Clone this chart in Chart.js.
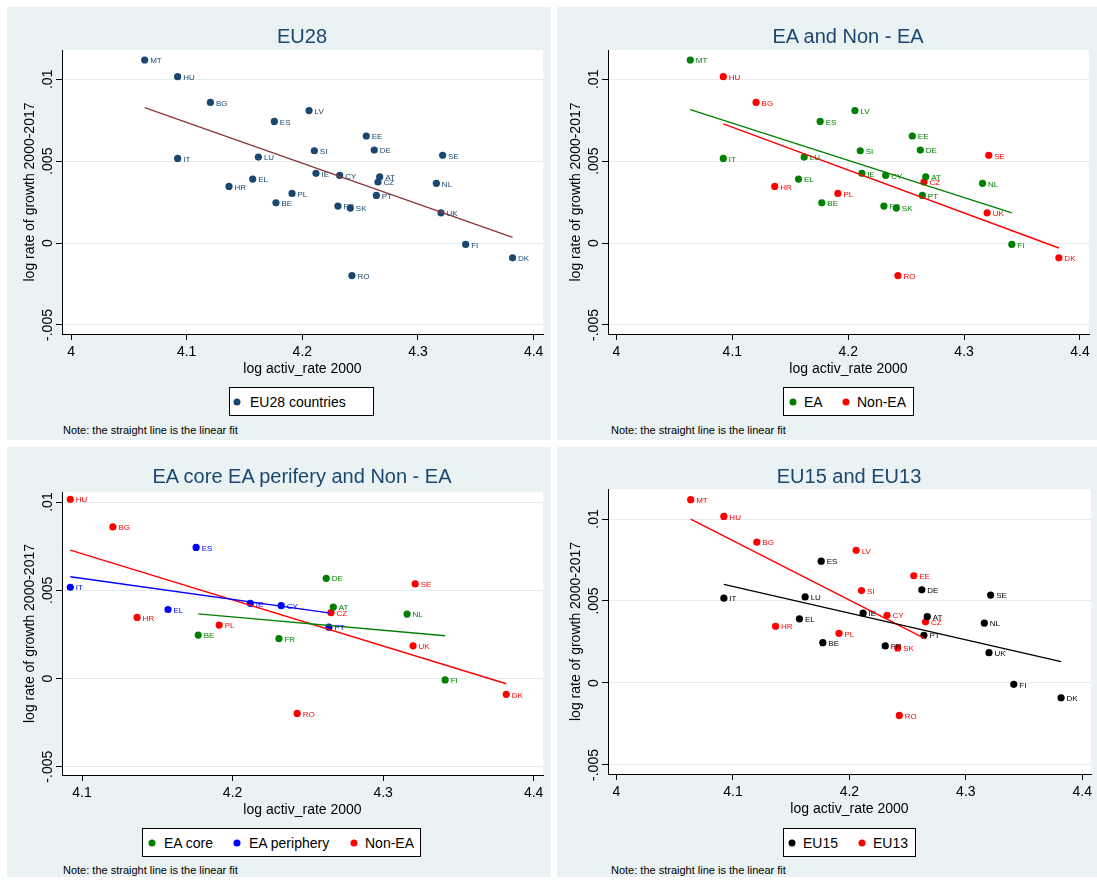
<!DOCTYPE html>
<html>
<head>
<meta charset="utf-8">
<script src="https://cdn.jsdelivr.net/npm/chart.js@4.4.1/dist/chart.umd.min.js"></script>
<style>
  body { margin: 0; width: 1097px; height: 886px; position: relative; overflow: hidden; background: #fff;
         font-family: "Liberation Sans", Arial, sans-serif; }
  .bg { position: absolute; background: #eaf2f3; }
  .ttl { position: absolute; font-size: 20px; line-height: 1; color: #1a476f; white-space: nowrap; transform: translate(-50%, -50%); }
  .lgd { position: absolute; background: #fff; border: 1px solid #000; box-sizing: border-box; }
  .dot { position: absolute; width: 7px; height: 7px; border-radius: 50%; transform: translate(-50%, -50%); }
  .ltx { position: absolute; font-size: 14px; line-height: 1; transform: translateY(-50%); white-space: nowrap; }
  .note { position: absolute; font-size: 11px; line-height: 1; transform: translateY(-50%); white-space: nowrap; }
  canvas { position: absolute; }
</style>
</head>
<body>
<div class="bg" style="left:7px;top:7px;width:544px;height:433px"></div>
<div class="bg" style="left:557px;top:7px;width:540px;height:433px"></div>
<div class="bg" style="left:7px;top:447px;width:544px;height:430px"></div>
<div class="bg" style="left:557px;top:447px;width:540px;height:430px"></div>

<canvas id="c1"></canvas>
<canvas id="c2"></canvas>
<canvas id="c3"></canvas>
<canvas id="c4"></canvas>

<div class="ttl" style="left:302px;top:36px">EU28</div>
<div class="ttl" style="left:848px;top:36px">EA and Non - EA</div>
<div class="ttl" style="left:302px;top:476px">EA core EA perifery and Non - EA</div>
<div class="ttl" style="left:849px;top:476px">EU15 and EU13</div>

<div id="legends"></div>

<div class="note" style="left:63px;top:430px">Note: the straight line is the linear fit</div>
<div class="note" style="left:611px;top:430px">Note: the straight line is the linear fit</div>
<div class="note" style="left:63px;top:870px">Note: the straight line is the linear fit</div>
<div class="note" style="left:611px;top:870px">Note: the straight line is the linear fit</div>

<script>
// data
const countries = ['MT','HU','BG','LV','ES','EE','DE','SI','SE','IT','LU','IE','CY','AT','CZ','NL','EL','HR','PL','PT','BE','FR','SK','UK','FI','DK','RO'];
const activRate2000 = [4.0637,4.0922,4.1205,4.2058,4.1758,4.2553,4.2622,4.2104,4.3213,4.0922,4.1620,4.2118,4.2323,4.2669,4.2654,4.3159,4.1571,4.1366,4.1911,4.2640,4.1772,4.2308,4.2415,4.3199,4.3412,4.3818,4.2429];
const growth0017 = [0.01118,0.01016,0.00859,0.00809,0.00743,0.00654,0.00568,0.00564,0.00536,0.00517,0.00525,0.00426,0.00413,0.00405,0.00373,0.00365,0.00391,0.00346,0.00303,0.00291,0.00246,0.00226,0.00214,0.00185,-0.00008,-0.0009,-0.00198];

const eaGroup = ['MT','LV','ES','EE','DE','SI','IT','LU','IE','CY','AT','NL','EL','PT','BE','FR','SK','FI'];
const nonEaGroup = ['HU','BG','SE','CZ','HR','PL','UK','DK','RO'];
const eaCore = ['DE','AT','NL','BE','FR','FI'];
const eaPeriphery = ['ES','IT','IE','CY','EL','PT'];
const eu15 = ['ES','DE','SE','IT','LU','IE','AT','NL','EL','PT','BE','FR','UK','FI','DK'];
const eu13 = ['MT','HU','BG','LV','EE','SI','CY','CZ','HR','PL','SK','RO'];

// linear fit end points
const fitEU28X = [4.0637, 4.3818], fitEU28Y = [0.00827, 0.00035];
const fitEAX = [4.0637, 4.3412], fitEAY = [0.00815, 0.00185];
const fitNonEAX = [4.0922, 4.3818], fitNonEAY = [0.00728, -0.0003];
const fitCoreX = [4.1772, 4.3412], fitCoreY = [0.00366, 0.00242];
const fitPeriphX = [4.0922, 4.2640], fitPeriphY = [0.00577, 0.00372];
const fitEU15X = [4.0922, 4.3818], fitEU15Y = [0.00601, 0.0013];
const fitEU13X = [4.0637, 4.2654], fitEU13Y = [0.0100, 0.00269];

const xTicks = [4, 4.1, 4.2, 4.3, 4.4];
const xTickLabels = ['4', '4.1', '4.2', '4.3', '4.4'];
const xTicksCP = [4.1, 4.2, 4.3, 4.4];
const xTickLabelsCP = ['4.1', '4.2', '4.3', '4.4'];
const yTicks = [-0.005, 0, 0.005, 0.01];
const yTickLabels = ['-.005', '0', '.005', '.01'];

const family = '"Liberation Sans", Arial, sans-serif';
const NAVY = '#1a476f', MAROON = '#90353b', GREEN = '#008000', RED = '#ff0000', BLUE = '#0000ff', BLACK = '#000000';

function groupPoints(group) {
    return countries.map((c, i) => ({ x: activRate2000[i], y: growth0017[i], c: c }))
        .filter(p => group.includes(p.c));
}
function scatterSet(group, color) {
    return {
        data: groupPoints(group), backgroundColor: color, borderWidth: 0,
        pointRadius: 3.6, pointHoverRadius: 3.6, labelColor: color, order: 1
    };
}
function fitSet(fx, fy, color) {
    return {
        data: fx.map((x, i) => ({ x: x, y: fy[i] })), showLine: true, borderColor: color,
        borderWidth: 1.4, pointRadius: 0, pointHoverRadius: 0, order: 0
    };
}

const plotBg = {
    id: 'plotBg',
    beforeDraw(chart) {
        const a = chart.chartArea;
        chart.ctx.save();
        chart.ctx.fillStyle = '#fff';
        chart.ctx.fillRect(a.left, a.top, a.right - a.left, a.bottom - a.top);
        chart.ctx.restore();
    }
};
const pointLabels = {
    id: 'pointLabels',
    afterDatasetsDraw(chart) {
        const ctx = chart.ctx;
        ctx.save();
        ctx.font = '8px ' + family;
        ctx.textBaseline = 'middle';
        chart.data.datasets.forEach((ds, i) => {
            if (!ds.labelColor) return;
            ctx.fillStyle = ds.labelColor;
            chart.getDatasetMeta(i).data.forEach((el, j) => {
                ctx.fillText(ds.data[j].c, el.x + 5.5, el.y + 1);
            });
        });
        ctx.restore();
    }
};
const yLabels = {
    id: 'yLabels',
    afterDraw(chart) {
        const s = chart.scales.y, ctx = chart.ctx;
        ctx.save();
        ctx.font = '14px ' + family;
        ctx.fillStyle = '#000';
        ctx.textAlign = 'center';
        ctx.textBaseline = 'middle';
        s.ticks.forEach((t, i) => {
            ctx.save();
            ctx.translate(s.right - 14, s.getPixelForValue(t.value));
            ctx.rotate(-Math.PI / 2);
            ctx.fillText(yTickLabels[yTicks.indexOf(t.value)], 0, 0);
            ctx.restore();
        });
        ctx.restore();
    }
};

function makeChart(id, area, xMin, xMax, yMin, yMax, xt, xl, datasets) {
    const cv = document.getElementById(id);
    const left = area.left - 55, top = area.top - 45;
    cv.width = area.right - left + 8;
    cv.height = area.bottom - top + 49;
    cv.style.left = left + 'px';
    cv.style.top = top + 'px';
    return new Chart(cv, {
        type: 'scatter',
        data: { datasets: datasets },
        options: {
            responsive: false,
            animation: false,
            devicePixelRatio: 1,
            layout: { padding: { left: 0, top: 45, right: 8, bottom: 4 } },
            plugins: { legend: { display: false }, title: { display: false }, tooltip: { enabled: false } },
            scales: {
                x: {
                    type: 'linear', min: xMin, max: xMax,
                    afterBuildTicks: s => { s.ticks = xt.map(v => ({ value: v })); },
                    afterFit: s => { s.height = 45; },
                    ticks: {
                        callback: (v, i) => xl[i], autoSkip: false, maxRotation: 0,
                        font: { family: family, size: 14 }, color: '#000', padding: 4
                    },
                    grid: { drawOnChartArea: false, tickLength: 6, tickColor: '#000' },
                    border: { display: true, color: '#000', width: 1 },
                    title: {
                        display: true, text: 'log activ_rate 2000', color: '#000',
                        font: { family: family, size: 14 }, padding: { top: 0, bottom: 1.6 }
                    }
                },
                y: {
                    type: 'linear', min: yMin, max: yMax,
                    afterBuildTicks: s => { s.ticks = yTicks.map(v => ({ value: v })); },
                    afterFit: s => { s.width = 55; },
                    ticks: { display: false },
                    grid: { color: '#e3ecee', tickLength: 6, tickColor: '#000' },
                    border: { display: true, color: '#000', width: 1 },
                    title: {
                        display: true, text: 'log rate of growth 2000-2017', color: '#000',
                        font: { family: family, size: 14 }, padding: { top: 15, bottom: 0 }
                    }
                }
            }
        },
        plugins: [plotBg, pointLabels, yLabels]
    });
}

makeChart('c1', { left: 62, top: 50, right: 543, bottom: 334 }, 3.9922, 4.4081, -0.00555, 0.01179,
    xTicks, xTickLabels,
    [scatterSet(countries, NAVY), fitSet(fitEU28X, fitEU28Y, MAROON)]);

makeChart('c2', { left: 608, top: 50, right: 1089, bottom: 334 }, 3.9927, 4.4078, -0.00555, 0.01179,
    xTicks, xTickLabels,
    [scatterSet(eaGroup, GREEN), scatterSet(nonEaGroup, RED),
     fitSet(fitEAX, fitEAY, GREEN), fitSet(fitNonEAX, fitNonEAY, RED)]);

makeChart('c3', { left: 62, top: 492, right: 543, bottom: 775 }, 4.0867, 4.4062, -0.00547, 0.01057,
    xTicksCP, xTickLabelsCP,
    [scatterSet(eaCore, GREEN), scatterSet(eaPeriphery, BLUE), scatterSet(nonEaGroup, RED),
     fitSet(fitCoreX, fitCoreY, GREEN), fitSet(fitPeriphX, fitPeriphY, BLUE), fitSet(fitNonEAX, fitNonEAY, RED)]);

makeChart('c4', { left: 608, top: 489, right: 1091, bottom: 774 }, 3.9927, 4.4075, -0.00555, 0.01183,
    xTicks, xTickLabels,
    [scatterSet(eu15, BLACK), scatterSet(eu13, RED),
     fitSet(fitEU15X, fitEU15Y, BLACK), fitSet(fitEU13X, fitEU13Y, RED)]);

// legends (box and key positions in page pixels)
const legendBoxes = [
    { left: 229, top: 387, width: 145, height: 29, keys: [[237, 250, 'EU28 countries', NAVY]] },
    { left: 783, top: 387, width: 131, height: 29, keys: [[793, 804, 'EA', GREEN], [846, 857, 'Non-EA', RED]] },
    { left: 142, top: 828, width: 279, height: 29, keys: [[152, 164, 'EA core', GREEN], [237, 249, 'EA periphery', BLUE], [354, 365, 'Non-EA', RED]] },
    { left: 783, top: 828, width: 133, height: 29, keys: [[792, 803, 'EU15', BLACK], [862, 873, 'EU13', RED]] }
];
const host = document.getElementById('legends');
legendBoxes.forEach(b => {
    const box = document.createElement('div');
    box.className = 'lgd';
    box.style.cssText = `left:${b.left}px;top:${b.top}px;width:${b.width}px;height:${b.height}px`;
    host.appendChild(box);
    const cy = b.top + b.height / 2;
    b.keys.forEach(k => {
        const d = document.createElement('div');
        d.className = 'dot';
        d.style.cssText = `left:${k[0]}px;top:${cy}px;background:${k[3]}`;
        host.appendChild(d);
        const t = document.createElement('div');
        t.className = 'ltx';
        t.style.cssText = `left:${k[1]}px;top:${cy}px`;
        t.textContent = k[2];
        host.appendChild(t);
    });
});
</script>
</body>
</html>
